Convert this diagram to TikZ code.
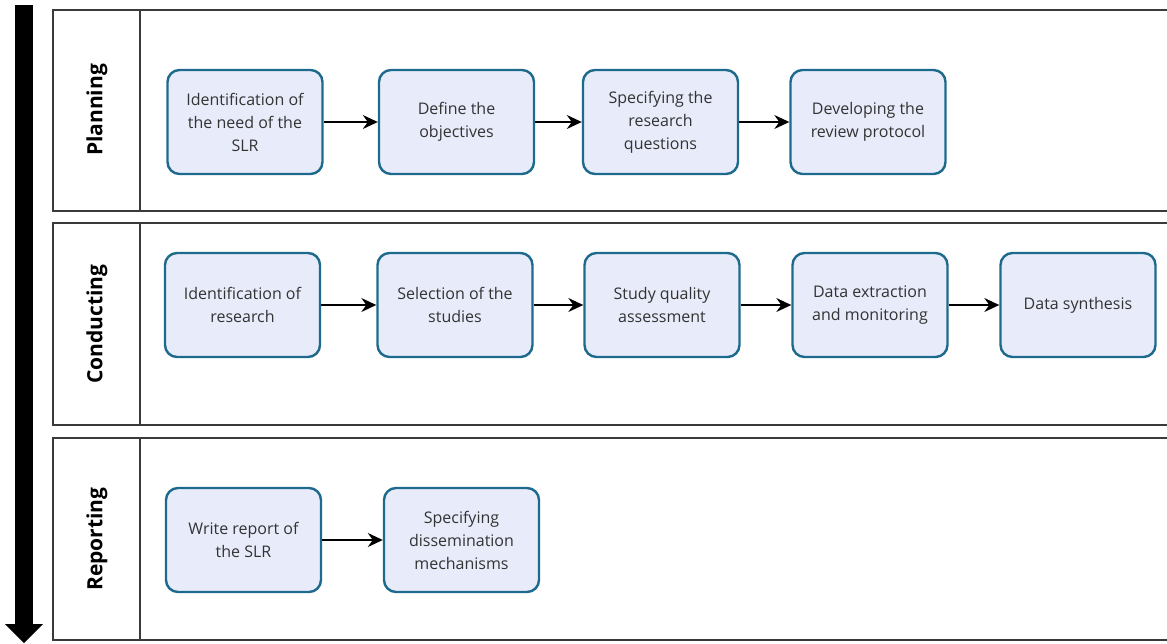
\documentclass[tikz,border=0pt]{standalone}
\usepackage{fontspec}
\setmainfont{Open Sans}
\usetikzlibrary{arrows.meta}
\definecolor{boxfill}{HTML}{E8ECFA}
\definecolor{boxdraw}{HTML}{1E6A8C}
\definecolor{txt}{HTML}{333333}
\definecolor{lane}{HTML}{3A3A3A}
\tikzset{
  stepbox/.style={draw=boxdraw, fill=boxfill, line width=2.4pt, rounded corners=12pt,
    minimum width=155pt, minimum height=104pt, align=center, text=txt,
    font=\fontsize{16}{23}\selectfont, inner sep=2pt},
  flow/.style={-{Stealth[length=15pt,width=14pt,inset=5pt]}, line width=1.6pt, black},
  laneline/.style={draw=lane, line width=1.8pt},
  lanelabel/.style={rotate=90, font=\bfseries\fontsize{21}{24}\selectfont, text=black}
}
\begin{document}
\begin{tikzpicture}[x=1pt,y=-1pt]
\useasboundingbox (0,0) rectangle (1167,643);
% big arrow
\fill[black] (15,5) rectangle (33,626);
\fill[black] (5,624) -- (43,624) -- (24,643) -- cycle;
% lanes
\foreach \t/\b in {10/211, 223/425, 438/640}{
  \draw[laneline] (1167,\t) -- (53,\t) -- (53,\b) -- (1167,\b);
  \draw[laneline] (140,\t) -- (140,\b);
}
\node[lanelabel] (lp) at (97,110) {Planning};
\node[lanelabel] (lc) at (97,324) {Conducting};
\node[lanelabel] (lr) at (97,539) {Reporting};
% planning
\node[stepbox] (p1) at (245,122) {Identification of\\the need of the\\SLR};
\node[stepbox] (p2) at (456.5,122) {Define the\\objectives};
\node[stepbox] (p3) at (660.5,122) {Specifying the\\research\\questions};
\node[stepbox] (p4) at (868,122) {Developing the\\review protocol};
\draw[flow] (p1) -- (p2);
\draw[flow] (p2) -- (p3);
\draw[flow] (p3) -- (p4);
% conducting
\node[stepbox] (c1) at (242.5,305) {Identification of\\research};
\node[stepbox] (c2) at (455,305) {Selection of the\\studies};
\node[stepbox] (c3) at (662,305) {Study quality\\assessment};
\node[stepbox] (c4) at (870,305) {Data extraction\\and monitoring};
\node[stepbox] (c5) at (1078,305) {Data synthesis};
\draw[flow] (c1) -- (c2);
\draw[flow] (c2) -- (c3);
\draw[flow] (c3) -- (c4);
\draw[flow] (c4) -- (c5);
% reporting
\node[stepbox] (r1) at (243.5,540) {Write report of\\the SLR};
\node[stepbox] (r2) at (461.5,540) {Specifying\\dissemination\\mechanisms};
\draw[flow] (r1) -- (r2);
\end{tikzpicture}
\end{document}
